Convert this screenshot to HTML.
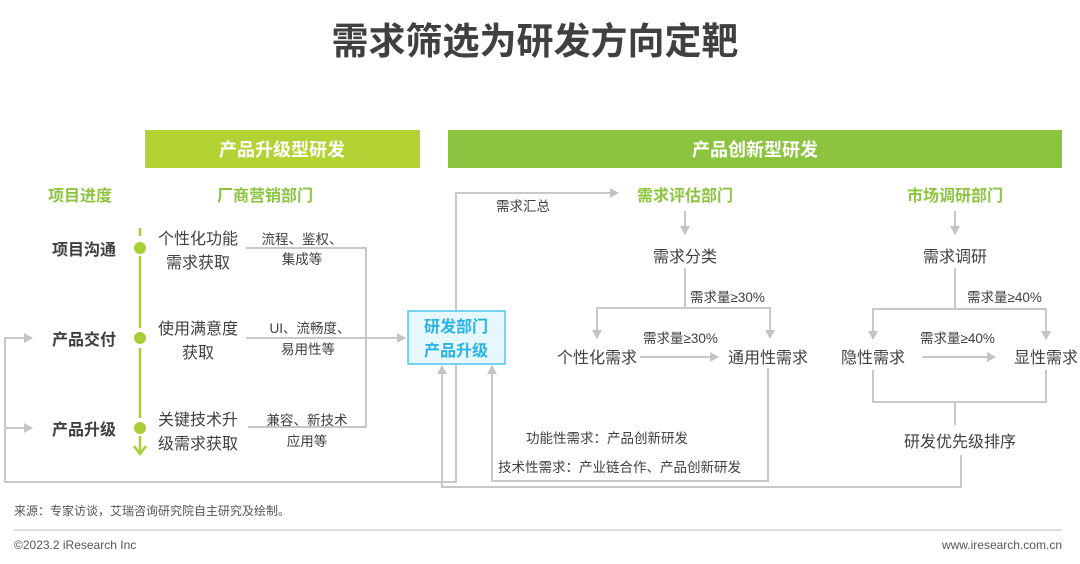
<!DOCTYPE html>
<html><head><meta charset="utf-8"><style>
html,body{margin:0;padding:0;background:#fff;}
svg{display:block;font-family:"Liberation Sans","Noto Sans CJK SC",sans-serif;}
</style></head><body>
<svg width="1080" height="564" viewBox="0 0 1080 564" xmlns="http://www.w3.org/2000/svg">
<defs>
<marker id="a" markerWidth="10" markerHeight="10" refX="8" refY="5" orient="auto" markerUnits="userSpaceOnUse"><path d="M0,0 L9,5 L0,10 Z" fill="#c4c4c4"/></marker>
</defs>
<text x="535" y="54" text-anchor="middle" font-size="37" font-weight="bold" fill="#404040">需求筛选为研发方向定靶</text>
<rect x="145" y="130" width="275" height="38" fill="#b3d233"/>
<text x="282" y="156" text-anchor="middle" font-size="18" font-weight="bold" fill="#fff">产品升级型研发</text>
<rect x="448" y="130" width="614" height="38" fill="#8cc43f"/>
<text x="755" y="156" text-anchor="middle" font-size="18" font-weight="bold" fill="#fff">产品创新型研发</text>

<g font-size="16" font-weight="bold" fill="#8cc43f" text-anchor="middle">
<text x="80" y="201">项目进度</text>
<text x="265" y="201">厂商营销部门</text>
<text x="685" y="201">需求评估部门</text>
<text x="955" y="201">市场调研部门</text>
</g>
<g font-size="16" font-weight="bold" fill="#404040" text-anchor="middle">
<text x="84" y="255">项目沟通</text>
<text x="84" y="345">产品交付</text>
<text x="84" y="435">产品升级</text>
</g>
<!-- green timeline -->
<g stroke="#a8cf38" stroke-width="2.5" fill="none">
<line x1="140" y1="228" x2="140" y2="236"/>
<line x1="140" y1="256" x2="140" y2="328"/>
<line x1="140" y1="348" x2="140" y2="418"/>
<line x1="140" y1="436" x2="140" y2="452"/>
<polyline points="134,446 140,454 146,446"/>
</g>
<g fill="#a8cf38"><circle cx="140" cy="248" r="6"/><circle cx="140" cy="338" r="6"/><circle cx="140" cy="428" r="6"/></g>
<g font-size="16" fill="#404040" text-anchor="middle">
<text x="198" y="244">个性化功能</text><text x="198" y="268">需求获取</text>
<text x="198" y="334">使用满意度</text><text x="198" y="358">获取</text>
<text x="198" y="425">关键技术升</text><text x="198" y="449">级需求获取</text>
</g>
<g font-size="13.5" fill="#404040" text-anchor="middle">
<text x="302" y="244">流程、鉴权、</text><text x="302" y="264">集成等</text>
<text x="310" y="333">UI、流畅度、</text><text x="308" y="354">易用性等</text>
<text x="307" y="425">兼容、新技术</text><text x="307" y="446">应用等</text>
</g>
<g stroke="#c8c8c8" stroke-width="2" fill="none">
<polyline points="246,248 366,248 366,427 248,427"/>
<line x1="246" y1="338" x2="405" y2="338" marker-end="url(#a)"/>
<polyline points="456,364 456,482 5,482 5,338 32,338" marker-end="url(#a)"/>
<line x1="5" y1="428" x2="32" y2="428" marker-end="url(#a)"/>
<polyline points="456,310 456,193 618,193" marker-end="url(#a)"/>
<polyline points="961,455 961,487 442,487 442,366" marker-end="url(#a)"/>
<polyline points="768,368 768,481 492,481 492,366" marker-end="url(#a)"/>
<line x1="685" y1="211" x2="685" y2="234" marker-end="url(#a)"/>
<line x1="685" y1="268" x2="685" y2="308"/>
<polyline points="597,336 597,308 770,308 770,336" />
<line x1="597" y1="320" x2="597" y2="338" marker-end="url(#a)"/>
<line x1="770" y1="320" x2="770" y2="338" marker-end="url(#a)"/>
<line x1="640" y1="357" x2="718" y2="357" marker-end="url(#a)"/>
<line x1="955" y1="211" x2="955" y2="234" marker-end="url(#a)"/>
<line x1="955" y1="268" x2="955" y2="309"/>
<polyline points="873,336 873,309 1046,309 1046,336"/>
<line x1="873" y1="320" x2="873" y2="339" marker-end="url(#a)"/>
<line x1="1046" y1="320" x2="1046" y2="339" marker-end="url(#a)"/>
<line x1="922" y1="357" x2="995" y2="357" marker-end="url(#a)"/>
<polyline points="873,370 873,402 1046,402 1046,370"/>
<line x1="955" y1="402" x2="955" y2="425"/>
</g>
<rect x="408" y="311" width="97" height="53" fill="#e6f7fd" stroke="#4ec5ee" stroke-width="1.5"/>
<g font-size="16" font-weight="bold" fill="#2bb3e6" text-anchor="middle">
<text x="456" y="332">研发部门</text><text x="456" y="356">产品升级</text>
</g>
<g font-size="13.5" fill="#404040">
<text x="496" y="211">需求汇总</text>
<text x="690" y="302">需求量≥30%</text>
<text x="643" y="343">需求量≥30%</text>
<text x="967" y="302">需求量≥40%</text>
<text x="920" y="343">需求量≥40%</text>
<text x="526" y="443">功能性需求：产品创新研发</text>
<text x="498" y="472">技术性需求：产业链合作、产品创新研发</text>
</g>
<g font-size="16" fill="#404040" text-anchor="middle">
<text x="685" y="262">需求分类</text>
<text x="955" y="262">需求调研</text>
<text x="597" y="363">个性化需求</text>
<text x="768" y="363">通用性需求</text>
<text x="873" y="363">隐性需求</text>
<text x="1046" y="363">显性需求</text>
<text x="960" y="447">研发优先级排序</text>
</g>
<text x="14" y="515" font-size="12" fill="#555">来源：专家访谈，艾瑞咨询研究院自主研究及绘制。</text>
<line x1="14" y1="530" x2="1062" y2="530" stroke="#bbb" stroke-width="1"/>
<text x="14" y="549" font-size="12" fill="#555">©2023.2 iResearch Inc</text>
<text x="1062" y="549" font-size="12" fill="#555" text-anchor="end">www.iresearch.com.cn</text>
</svg>
</body></html>
